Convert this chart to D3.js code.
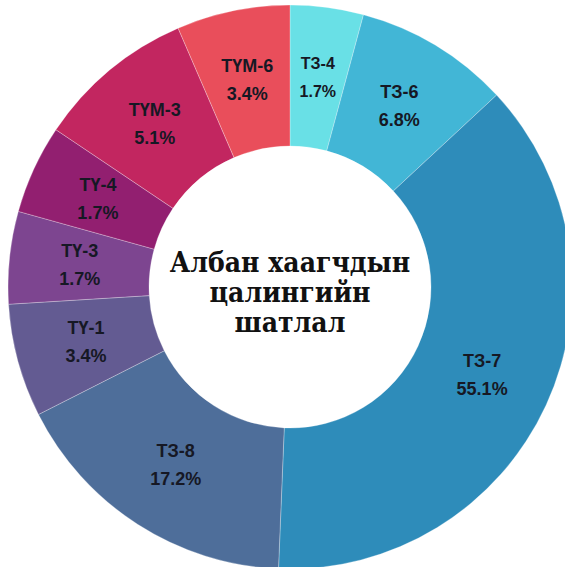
<!DOCTYPE html>
<html>
<head>
<meta charset="utf-8">
<script src="https://cdn.jsdelivr.net/npm/d3@7"></script>
<style>
  html, body { margin: 0; padding: 0; background: #ffffff; overflow: hidden; }
  svg { display: block; }
</style>
</head>
<body>
<svg id="chart" width="565" height="567"></svg>
<script>
// salary grades, clockwise from 12 o'clock
const grades = ["ТЗ-4", "ТЗ-6", "ТЗ-7", "ТЗ-8", "ТҮ-1", "ТҮ-3", "ТҮ-4", "ТҮМ-3", "ТҮМ-6"];
// printed share of each grade (%)
const shares = [1.7, 6.8, 55.1, 17.2, 3.4, 1.7, 1.7, 5.1, 3.4];
// slice sizes as they are drawn in the picture (not the printed shares)
const sliceSizes = [4.2, 8.9, 37.6, 16.9, 6.5, 5.3, 5.1, 9.1, 6.5];
const titleLines = ["Албан хаагчдын", "цалингийн", "шатлал"];

const palette = ["#69e0e6", "#42b6d6", "#2e8cba", "#4e6e9a", "#635b92", "#7d4590", "#921f70", "#c22660", "#e94e5b"];

const svg = d3.select("#chart");
const cx = 290;
const cy = 287;
const outerR = 282;
const innerR = 141;

const color = d3.scaleOrdinal().domain(grades).range(palette);

const data = grades.map((g, i) => ({ grade: g, share: shares[i], size: sliceSizes[i] }));

const pie = d3.pie()
  .sort(null)
  .value((d) => d.size);

const arc = d3.arc()
  .innerRadius(innerR)
  .outerRadius(outerR);

const g = svg.append("g").attr("transform", `translate(${cx},${cy})`);

const slices = pie(data);

g.selectAll(".slice")
  .data(slices)
  .enter()
  .append("path")
  .attr("class", "slice")
  .attr("d", arc)
  .attr("fill", (d) => color(d.data.grade))
  .attr("stroke", "rgba(255,255,255,0.35)")
  .attr("stroke-width", 0.8);

// labels sit at the arc centroid, name above and percent below
const labels = g.selectAll(".lbl")
  .data(slices)
  .enter()
  .append("g")
  .attr("class", "lbl")
  .attr("transform", (d) => `translate(${arc.centroid(d)})`)
  .style("font-family", "'Liberation Sans', Arial, sans-serif")
  .style("font-weight", "bold")
  .style("font-size", (d) => (d.endAngle - d.startAngle < 0.28 ? "16px" : "18px"))
  .attr("fill", "#161824")
  .attr("text-anchor", "middle");

labels.append("text")
  .attr("y", -8)
  .text((d) => d.data.grade);

labels.append("text")
  .attr("y", 20)
  .text((d) => d3.format(".1f")(d.data.share) + "%");

// title in the hole, squeezed a bit to fit like the original face
g.append("g")
  .attr("transform", "scale(0.9,1)")
  .append("text")
  .attr("text-anchor", "middle")
  .style("font-family", "'DejaVu Serif', serif")
  .style("font-weight", "bold")
  .style("font-size", "28px")
  .attr("fill", "#111111")
  .selectAll("tspan")
  .data(titleLines)
  .enter()
  .append("tspan")
  .attr("x", 0)
  .attr("y", (d, i) => -15 + i * 30)
  .text((d) => d);
</script>
</body>
</html>
